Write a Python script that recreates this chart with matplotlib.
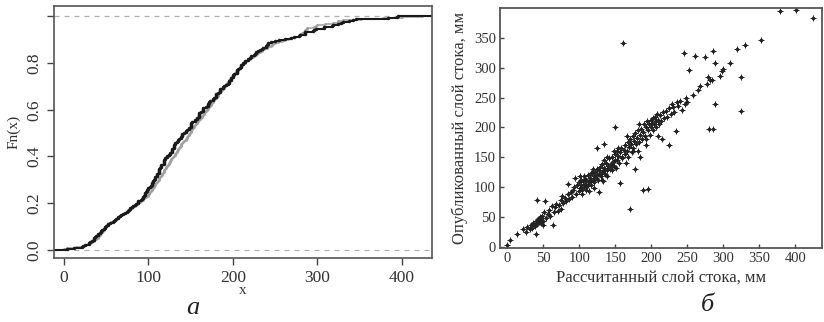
import numpy as np
import matplotlib
matplotlib.use("Agg")
import matplotlib.pyplot as plt

plt.rcParams['font.family'] = ['Liberation Serif', 'DejaVu Serif']

# calculated runoff (x) and published runoff (y), mm
calc = [0, 4, 14, 22, 26, 28,
        31, 33, 35, 36, 38, 40, 40, 41, 42, 43, 44, 45, 46, 47, 47, 48, 49, 50,
        51, 52, 54, 56, 58, 60, 62, 64, 65, 66, 68, 70, 72, 74, 75, 76, 78, 80, 82, 84,
        85, 86, 88, 90, 91, 93, 94, 95, 97, 99,
        100, 101, 102, 103, 104, 105, 106, 107, 108, 109, 110, 111, 112, 113, 114, 115,
        116, 117, 118, 119, 120, 121, 122, 123, 124, 125, 126, 127, 128, 129, 130, 131,
        132, 133, 134, 135, 136, 137, 138, 139, 140, 141, 142, 135, 144, 145, 146, 147,
        148, 149, 150, 150, 151, 152, 153, 154, 155, 156, 157, 158, 159, 160,
        101, 104, 108, 112, 116, 119, 121, 124, 127, 131, 134, 138, 146, 148,
        161, 162, 163, 164, 165, 166, 167, 168, 169, 170, 171, 172, 173, 174, 175, 176,
        177, 178, 179, 180, 181, 182, 183, 184, 185, 186, 187, 188, 189, 190, 191, 192,
        193, 194, 195, 196, 197, 198, 199, 200,
        154, 166, 174, 183, 192,
        201, 202, 203, 204, 205, 206, 207, 208, 209, 210, 211, 212, 214, 215, 216, 218,
        220, 222, 224, 225, 227, 229, 230, 232, 234, 235, 237, 240, 242, 245, 247, 248, 250,
        253, 258, 261, 265, 268, 274, 278, 279, 280, 282, 284, 285, 286, 288, 288, 296,
        298, 300, 309, 319, 325, 325, 330, 352, 378, 401, 424]
publ = [3, 12, 22, 30, 25, 33,
        30, 37, 31, 40, 35, 21, 44, 78, 38, 47, 42, 50, 45, 40, 48, 52, 44, 36,
        59, 77, 48, 55, 62, 52, 68, 36, 58, 66, 72, 60, 70, 78, 64, 85, 74, 82, 76, 105,
        88, 80, 92, 84, 96, 100, 115, 88, 104, 94,
        108, 98, 112, 103, 96, 110, 100, 118, 105, 95, 112, 102, 120, 108, 93, 115,
        110, 104, 124, 112, 118, 108, 126, 115, 120, 130, 112, 91, 122, 134, 118, 126,
        138, 110, 128, 173, 122, 140, 128, 118, 135, 148, 130, 132, 138, 128, 150, 142,
        136, 155, 145, 201, 132, 160, 146, 152, 140, 107, 158, 165, 150, 148,
        118, 88, 114, 104, 124, 130, 98, 165, 128, 112, 145, 150, 135, 160,
        342, 162, 155, 170, 140, 160, 176, 150, 168, 180, 64, 172, 158, 185, 165, 178,
        130, 190, 172, 182, 160, 195, 176, 188, 150, 198, 180, 96, 192, 206, 185, 200,
        170, 210, 195, 97, 205, 188, 212, 200,
        165, 185, 160, 205, 180,
        208, 215, 196, 205, 218, 210, 200, 222, 212, 185, 205, 220, 210, 180, 225, 215,
        228, 218, 170, 232, 222, 240, 235, 226, 194, 242, 236, 245, 230, 325, 239, 250, 242,
        296, 255, 319, 262, 269, 318, 272, 285, 198, 280, 279, 198, 328, 308, 239, 286,
        295, 298, 308, 331, 285, 227, 338, 346, 395, 396, 384]

x_ticks_a = [0, 100, 200, 300, 400]
y_ticks_a = [0.0, 0.2, 0.4, 0.6, 0.8, 1.0]
y_labels_a = ['0.0', '0.2', '0.4', '0.6', '0.8', '']
x_ticks_b = [0, 50, 100, 150, 200, 250, 300, 350, 400]
y_ticks_b = [0, 50, 100, 150, 200, 250, 300, 350]


def ecdf(ax, vals, color, lw, ms, xmax):
    v = np.sort(np.asarray(vals, dtype=float))
    n = len(v)
    f = np.arange(1, n + 1) / n
    right = np.append(v[1:], xmax)
    ax.hlines(f, v, right, colors=color, lw=lw)
    ax.hlines(0, -100, v[0], colors=color, lw=lw)
    ax.plot(v, f, 'o', color=color, ms=ms, mew=0)


fig = plt.figure(figsize=(8.24, 3.22), dpi=100)
txt = '#333333'

# panel a: empirical distribution functions
ax1 = fig.add_axes([0.0655, 0.1988, 0.4587, 0.7826])
ax1.axhline(0, color='#b0b0b0', ls=(0, (4, 4)), lw=0.9)
ax1.axhline(1, color='#b0b0b0', ls=(0, (4, 4)), lw=0.9)
ecdf(ax1, calc, '#a0a0a0', 1.1, 2.0, 500)
ecdf(ax1, publ, '#1a1a1a', 1.5, 2.5, 500)
ax1.set_xlim(-12, 436)
ax1.set_ylim(-0.035, 1.045)
ax1.set_xticks(x_ticks_a)
ax1.set_yticks(y_ticks_a)
ax1.set_yticklabels(y_labels_a, rotation=90, va='center')
ax1.tick_params(direction='out', length=5, width=1, colors='#444444',
                labelcolor=txt, labelsize=12.5)
for s in ax1.spines.values():
    s.set_color('#555555')
    s.set_linewidth(1.2)
ax1.set_xlabel('x', fontsize=11, color=txt, labelpad=-1)
ax1.set_ylabel('Fn(x)', fontsize=11, color=txt, labelpad=4)

# panel b: calculated vs published runoff
ax2 = fig.add_axes([0.6068, 0.2298, 0.3908, 0.7453])
ax2.plot(calc, publ, 'o', color='#222222', ms=2.6, mew=0)
ax2.plot(calc, publ, '+', color='#222222', ms=4.2, mew=0.7)
ax2.set_xlim(-10, 437)
ax2.set_ylim(-2, 400)
ax2.set_xticks(x_ticks_b)
ax2.set_yticks(y_ticks_b)
ax2.tick_params(direction='in', length=3, width=1, colors='#444444',
                labelcolor=txt, labelsize=10.5, pad=3)
for s in ax2.spines.values():
    s.set_color('#555555')
    s.set_linewidth(1.3)
ax2.set_xlabel('Рассчитанный слой стока, мм', fontsize=12, color=txt, labelpad=3)
ax2.set_ylabel('Опубликованный слой стока, мм', fontsize=12, color=txt, labelpad=4)

fig.text(193 / 824, 1 - 308 / 322, 'а', fontsize=19, style='italic',
         ha='center', va='center', color='#222222')
fig.text(707 / 824, 1 - 305 / 322, 'б', fontsize=19, style='italic',
         ha='center', va='center', color='#222222')

fig.savefig('out.png', dpi=100)
